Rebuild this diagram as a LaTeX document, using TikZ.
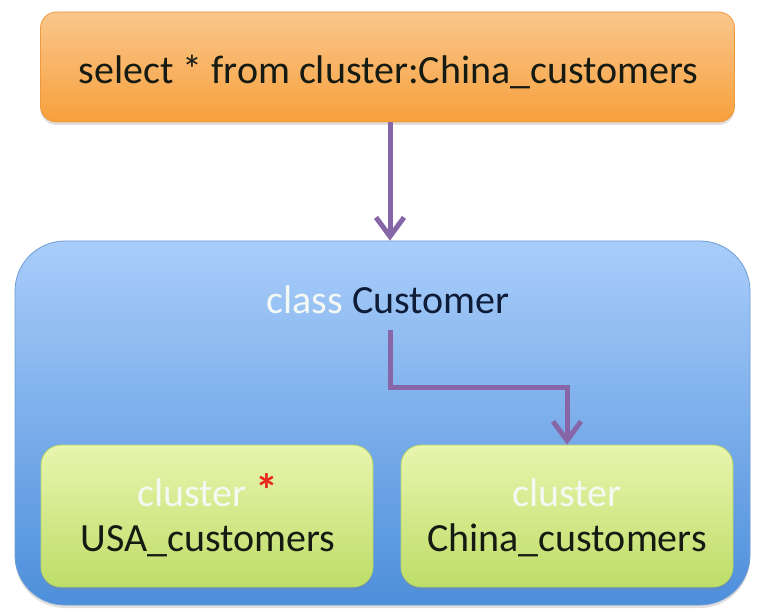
\documentclass[tikz,border=0pt]{standalone}
\usepackage{fontspec}
\setmainfont{Carlito}
\usetikzlibrary{arrows.meta,shadows}
\definecolor{orTop}{HTML}{FAC68C}
\definecolor{orBot}{HTML}{F7A03C}
\definecolor{orEdge}{HTML}{EE9A40}
\definecolor{blTop}{HTML}{A9CDFA}
\definecolor{blBot}{HTML}{4D8FDB}
\definecolor{blEdge}{HTML}{6F9CD2}
\definecolor{grTop}{HTML}{E8F5AE}
\definecolor{grBot}{HTML}{BEDD68}
\definecolor{grEdge}{HTML}{B5D46A}
\definecolor{arrowPurple}{HTML}{8766A8}
\definecolor{darkText}{HTML}{151A12}
\definecolor{navyText}{HTML}{0E1C38}
\definecolor{paleText}{HTML}{F4F9F4}
\definecolor{starRed}{HTML}{E8261C}
\tikzset{
  boxbase/.style={rectangle, inner sep=0pt, draw, line width=0.8pt,
    drop shadow={opacity=0.25, shadow xshift=0pt, shadow yshift=-3pt}},
  querybox/.style={boxbase, draw=orEdge, top color=orTop, bottom color=orBot,
    rounded corners=16pt, minimum width=694pt, minimum height=110pt},
  classbox/.style={boxbase, draw=blEdge, top color=blTop, bottom color=blBot,
    rounded corners=50pt, minimum width=735pt, minimum height=364pt},
  clusterbox/.style={boxbase, draw=grEdge, top color=grTop, bottom color=grBot,
    rounded corners=20pt, minimum width=332pt, minimum height=142pt},
  txt/.style={inner sep=0pt, anchor=base, font=\fontsize{40}{46}\selectfont},
  flow/.style={draw=arrowPurple, line width=5pt,
    -{Straight Barb[length=19pt, width=28pt, line width=5pt]}},
}
\begin{document}
\begin{tikzpicture}[x=1pt, y=-1pt]
\useasboundingbox (0,0) rectangle (760,612);
\fill[white] (0,0) rectangle (760,612);
% boxes
\node[querybox] (query) at (387.5,67) {};
\node[classbox] (cls) at (382.5,423) {};
\node[clusterbox] (usa) at (207,516) {};
\node[clusterbox] (china) at (567,516) {};
% texts
\node[txt, text=darkText] (qtext) at (388.5,83.5) {select * from cluster:China\_customers};
\node[txt] (ctext) at (388,313) {\textcolor{paleText}{class} \textcolor{navyText}{Customer}};
\node[txt, text=paleText] (usa1) at (208,506.5) {cluster \textcolor{starRed}{\fontsize{46}{46}\selectfont\bfseries *}};
\node[txt, text=darkText] (usa2) at (208,551.5) {USA\_customers};
\node[txt, text=paleText] (china1) at (567,506.5) {cluster};
\node[txt, text=darkText] (china2) at (567,551.5) {China\_customers};
% connectors
\coordinate (elbowstart) at (390,330);
\draw[flow] (query.south -| 390,0) -- (cls.north -| 390,0);
\draw[flow] (elbowstart) |- (567,387) -- (china.north);
\end{tikzpicture}
\end{document}
